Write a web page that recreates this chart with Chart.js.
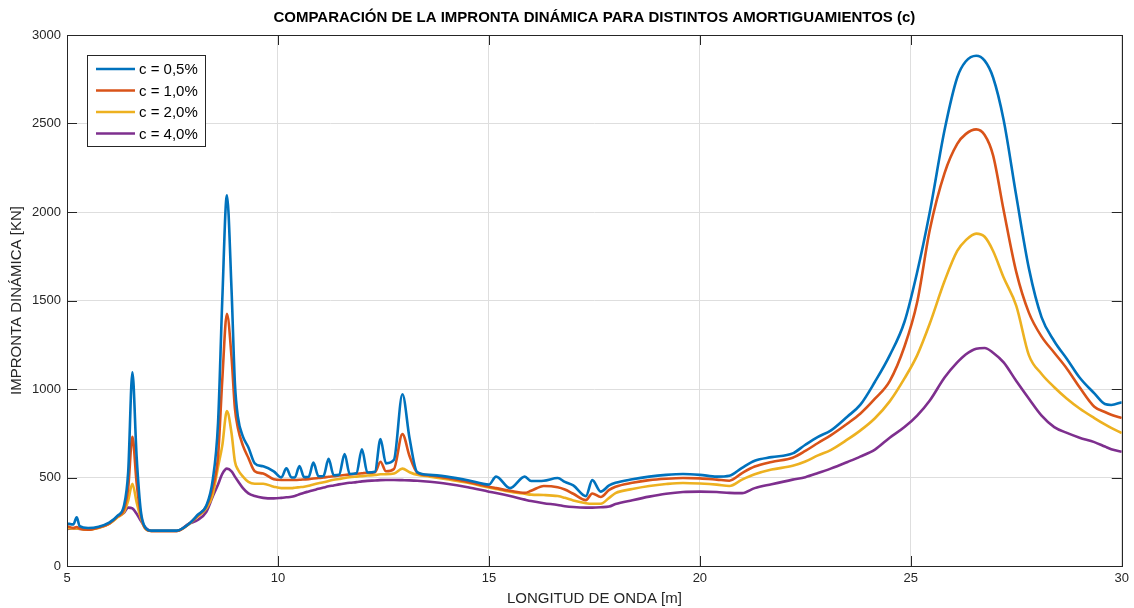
<!DOCTYPE html>
<html>
<head>
<meta charset="utf-8">
<script src="https://cdn.jsdelivr.net/npm/chart.js@4.4.1/dist/chart.umd.min.js"></script>
<style>
  html, body { margin: 0; padding: 0; background: #ffffff; }
  canvas { display: block; }
</style>
</head>
<body>
<canvas id="chart" width="1134" height="608"></canvas>
<script>
// Longitud de onda [m]
const wavelength = [
  5.0, 5.15, 5.23, 5.3, 5.5, 5.75, 6.0, 6.2, 6.35, 6.45, 6.55, 6.65, 6.75, 6.85, 7.0,
  7.6, 7.9, 8.1, 8.3, 8.45, 8.58, 8.68, 8.79, 8.9, 8.98, 9.05, 9.17, 9.3, 9.45, 9.65,
  9.9, 10.08, 10.2, 10.32, 10.4, 10.51, 10.62, 10.73, 10.84, 10.96, 11.08, 11.2, 11.32, 11.45, 11.58, 11.7, 11.86, 11.99, 12.12, 12.3, 12.43, 12.56,
  12.75, 12.95, 13.12, 13.3, 13.6, 14.0, 14.5, 15.0, 15.17, 15.5, 15.85, 16.0, 16.3, 16.63,
  16.8, 17.0, 17.3, 17.45, 17.65, 17.85, 18.0, 18.4, 18.8, 19.2, 19.6, 20.0, 20.4, 20.7, 21.0,
  21.3, 21.7, 22.2, 22.5, 22.8, 23.1, 23.5, 23.8, 24.15, 24.5, 24.85, 25.15, 25.45, 25.8, 26.1,
  26.3, 26.55, 26.75, 26.95, 27.2, 27.5, 27.8, 28.1, 28.4, 28.7, 29.0, 29.35, 29.6, 29.75, 30.0
];

// Impronta dinámica [kN] para cada amortiguamiento
const imprC05 = [
  240, 235, 275, 225, 215, 222, 245, 285, 340, 530, 1095, 620, 310, 220, 200,
  200, 240, 290, 340, 480, 808, 1500, 2095, 1560, 1030, 844, 731, 670, 580, 563,
  535, 500, 552, 500, 500, 565, 502, 504, 584, 507, 509, 605, 513, 516, 633, 520, 524, 659, 528, 532, 717, 580,
  600, 970, 720, 530, 515, 505, 485, 460, 505, 440, 505, 480, 482, 497,
  475, 455, 395, 485, 420, 455, 470, 490, 505, 515, 520, 515, 505, 510, 555,
  595, 615, 636, 685, 730, 765, 845, 910, 1041, 1190, 1380, 1660, 2000, 2463, 2760,
  2850, 2883, 2855, 2760, 2520, 2090, 1680, 1405, 1270, 1170, 1065, 975, 915, 910, 925
];
const imprC10 = [
  225, 215, 220, 212, 205, 218, 240, 280, 320, 440, 730, 470, 290, 215, 198,
  198, 240, 285, 335, 440, 620, 1050, 1425, 1180, 890, 780, 680, 610, 535, 522,
  490, 486, 486, 486, 486, 487, 489, 491, 494, 497, 500, 504, 507, 511, 514, 517, 521, 524, 527, 530, 589, 535,
  548, 745, 620, 528, 512, 497, 475, 448, 440, 425, 413, 425, 452, 445,
  432, 408, 372, 410, 390, 430, 448, 470, 485, 493, 497, 495, 488, 482, 525,
  562, 588, 612, 650, 695, 738, 805, 860, 945, 1045, 1240, 1490, 1900, 2220, 2385,
  2440, 2467, 2435, 2320, 2010, 1660, 1430, 1296, 1205, 1115, 1010, 900, 870, 855, 836
];
const imprC20 = [
  215, 212, 212, 210, 205, 215, 238, 275, 305, 370, 465, 360, 270, 212, 198,
  198, 238, 280, 325, 400, 560, 680, 875, 750, 590, 545, 505, 475, 465, 465,
  448, 440, 440, 440, 442, 445, 448, 453, 460, 467, 473, 480, 487, 492, 497, 501, 505, 508, 511, 514, 518, 518,
  522, 550, 530, 515, 505, 490, 470, 443, 435, 420, 408, 403, 401, 395,
  385, 370, 355, 352, 352, 385, 412, 435, 452, 463, 469, 466, 460, 452, 488,
  518, 545, 566, 590, 625, 655, 715, 765, 835, 930, 1060, 1190, 1370, 1610, 1780,
  1840, 1878, 1860, 1780, 1630, 1470, 1190, 1085, 1010, 945, 890, 836, 800, 780, 751
];
const imprC40 = [
  210, 212, 212, 210, 208, 218, 240, 278, 300, 330, 325, 295, 255, 220, 198,
  198, 240, 260, 305, 390, 460, 520, 550, 535, 505, 480, 440, 410, 395, 385,
  382, 385, 388, 391, 396, 405, 414, 421, 428, 436, 443, 450, 455, 461, 466, 470, 474, 478, 481, 483, 485, 486,
  486, 485, 484, 482, 476, 465, 445, 420, 412, 395, 375, 367, 355, 345,
  338, 333, 330, 330, 332, 336, 350, 372, 392, 408, 418, 420, 418, 413, 412,
  440, 462, 488, 502, 525, 550, 588, 618, 658, 725, 785, 850, 935, 1065, 1150,
  1195, 1228, 1232, 1205, 1150, 1045, 945, 850, 785, 752, 725, 700, 675, 660, 646
];

const seriesLabels = ['c = 0,5%', 'c = 1,0%', 'c = 2,0%', 'c = 4,0%'];
const seriesColors = ['#0072BD', '#D95319', '#EDB120', '#7E2F8E'];
const seriesValues = [imprC05, imprC10, imprC20, imprC40];

const xTickStep = 5;
const yTickStep = 500;

const FONT = '"Liberation Sans", Arial, Helvetica, sans-serif';
const INK = '#262626';

const datasets = seriesValues.map((vals, i) => ({
  label: seriesLabels[i],
  data: wavelength.map((x, j) => ({ x: x, y: vals[j] })),
  borderColor: seriesColors[i],
  backgroundColor: seriesColors[i],
  borderWidth: 2.6,
  pointRadius: 0,
  cubicInterpolationMode: 'monotone',
  fill: false
}));

// Box, inward tick marks, title and in-plot legend
const framePlugin = {
  id: 'frame',
  afterDatasetsDraw(chart) {
    const { ctx, chartArea: a, scales } = chart;
    ctx.save();
    ctx.strokeStyle = INK;
    ctx.lineWidth = 1;
    const tl = 10;
    ctx.beginPath();
    scales.x.ticks.forEach(t => {
      const px = Math.round(scales.x.getPixelForValue(t.value)) + 0.5;
      ctx.moveTo(px, a.bottom); ctx.lineTo(px, a.bottom - tl);
      ctx.moveTo(px, a.top); ctx.lineTo(px, a.top + tl);
    });
    scales.y.ticks.forEach(t => {
      const py = Math.round(scales.y.getPixelForValue(t.value)) + 0.5;
      ctx.moveTo(a.left, py); ctx.lineTo(a.left + tl, py);
      ctx.moveTo(a.right, py); ctx.lineTo(a.right - tl, py);
    });
    ctx.stroke();
    ctx.strokeRect(Math.round(a.left) + 0.5, Math.round(a.top) + 0.5,
                   Math.round(a.right - a.left), Math.round(a.bottom - a.top));

    // title
    ctx.fillStyle = '#000000';
    ctx.font = 'bold 15px ' + FONT;
    ctx.textAlign = 'center';
    ctx.textBaseline = 'middle';
    ctx.fillText('COMPARACIÓN DE LA IMPRONTA DINÁMICA PARA DISTINTOS AMORTIGUAMIENTOS (c)',
                 (a.left + a.right) / 2, 18);

    // legend
    const lx = a.left + 20, ly = a.top + 20, lw = 118, lh = 91;
    ctx.fillStyle = '#ffffff';
    ctx.fillRect(lx, ly, lw, lh);
    ctx.strokeStyle = '#262626';
    ctx.strokeRect(lx + 0.5, ly + 0.5, lw, lh);
    ctx.font = '15px ' + FONT;
    ctx.textAlign = 'left';
    chart.data.datasets.forEach((ds, i) => {
      const yy = ly + 14 + i * 21.5;
      ctx.strokeStyle = ds.borderColor;
      ctx.lineWidth = 2.6;
      ctx.beginPath();
      ctx.moveTo(lx + 9, yy); ctx.lineTo(lx + 48, yy);
      ctx.stroke();
      ctx.fillStyle = '#000000';
      ctx.fillText(ds.label, lx + 52, yy + 1);
    });
    ctx.restore();
  }
};

Chart.defaults.font.family = FONT;

new Chart(document.getElementById('chart'), {
  type: 'line',
  data: { datasets: datasets },
  options: {
    responsive: false,
    animation: false,
    devicePixelRatio: 1,
    layout: { padding: { top: 35, right: 10, left: 0, bottom: 0 } },
    plugins: { legend: { display: false }, title: { display: false }, tooltip: { enabled: false } },
    scales: {
      x: {
        type: 'linear',
        min: 5, max: 30,
        afterFit(s) { s.height = 42; },
        ticks: { stepSize: xTickStep, color: INK, font: { size: 13 }, padding: 5, maxRotation: 0, autoSkip: false,
                 callback: v => String(v) },
        grid: { color: '#dedede', drawTicks: false, lineWidth: 1 },
        border: { display: false },
        title: { display: true, text: 'LONGITUD DE ONDA [m]', color: INK, font: { size: 15 }, padding: { top: 0, bottom: 0 } }
      },
      y: {
        min: 0, max: 3000,
        afterFit(s) { s.width = 67; },
        ticks: { stepSize: yTickStep, color: INK, font: { size: 13 }, padding: 6,
                 callback: v => String(v) },
        grid: { color: '#dedede', drawTicks: false, lineWidth: 1 },
        border: { display: false },
        title: { display: true, text: 'IMPRONTA DINÁMICA [KN]', color: INK, font: { size: 15 }, padding: { top: 8, bottom: 0 } }
      }
    }
  },
  plugins: [framePlugin]
});
</script>
</body>
</html>
